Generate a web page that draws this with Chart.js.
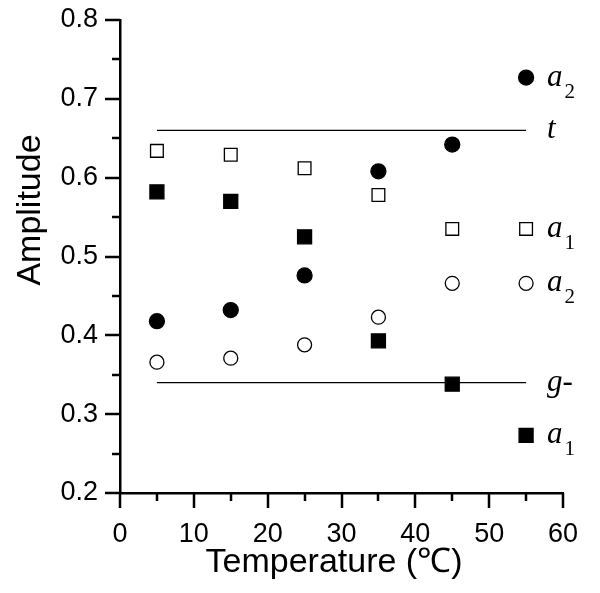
<!DOCTYPE html>
<html>
<head>
<meta charset="utf-8">
<script src="https://cdn.jsdelivr.net/npm/chart.js@4/dist/chart.umd.min.js"></script>
<style>
  html, body { margin: 0; padding: 0; background: #fff; }
</style>
</head>
<body>
<canvas id="chart" width="600" height="593"></canvas>
<script>
// measured series (temperature in C, amplitude)
const temps = [5, 15, 25, 35, 45];
const a2Filled = [0.418, 0.432, 0.476, 0.608, 0.642];
const a1Open = [0.634, 0.629, 0.612, 0.578, 0.535];
const a1Filled = [0.582, 0.570, 0.525, 0.393, 0.338];
const a2Open = [0.366, 0.371, 0.388, 0.423, 0.466];

// reference levels t and g-
const levelX = [5, 55];
const tLevel = 0.66;
const gLevel = 0.34;

// key markers on the right
const keyX = 55;
const keyA2Filled = 0.727;
const keyA1Open = 0.535;
const keyA2Open = 0.466;
const keyA1Filled = 0.273;

// text labels next to the key
const labelMain = ['a', 't', 'a', 'a', 'g-', 'a'];
const labelSub = ['2', '', '1', '2', '', '1'];
const labelY = [0.727, 0.66, 0.535, 0.466, 0.34, 0.273];

const yMajor = [0.2, 0.3, 0.4, 0.5, 0.6, 0.7, 0.8];
const xMajor = [0, 10, 20, 30, 40, 50, 60];

const sans = '"Liberation Sans", Arial, sans-serif';
const serif = '"Liberation Serif", "Times New Roman", serif';

function pts(xs, ys) {
    return ys.map((y, i) => ({ x: xs[i], y: y }));
}

function scatter(data, style, filled, radius) {
    return {
        type: 'scatter',
        data: data,
        pointStyle: style,
        pointRadius: radius,
        pointHoverRadius: radius,
        borderWidth: 1.3,
        borderColor: '#000',
        backgroundColor: filled ? '#000' : '#fff',
    };
}

function levelLine(level) {
    return {
        type: 'line',
        data: levelX.map(x => ({ x: x, y: level })),
        borderColor: '#000',
        borderWidth: 1.3,
        pointRadius: 0,
        fill: false,
    };
}

// tick marks, axis titles and the key text
const decorations = {
    id: 'decorations',
    afterDraw(chart) {
        const ctx = chart.ctx;
        const xs = chart.scales.x;
        const ys = chart.scales.y;
        const area = chart.chartArea;
        ctx.save();
        ctx.strokeStyle = '#000';
        ctx.lineWidth = 2.5;
        ctx.beginPath();
        for (let v = 0.2; v <= 0.8001; v += 0.05) {
            const py = Math.round(ys.getPixelForValue(v));
            const major = Math.abs(v * 10 - Math.round(v * 10)) < 1e-6;
            ctx.moveTo(area.left, py);
            ctx.lineTo(area.left - (major ? 15 : 8), py);
        }
        for (let v = 0; v <= 60; v += 5) {
            const px = Math.round(xs.getPixelForValue(v));
            ctx.moveTo(px, area.bottom);
            ctx.lineTo(px, area.bottom + (v % 10 === 0 ? 15 : 8));
        }
        ctx.stroke();

        // axis titles
        ctx.fillStyle = '#000';
        ctx.font = '34px ' + sans;
        ctx.textAlign = 'center';
        ctx.textBaseline = 'alphabetic';
        ctx.fillText('Temperature (\u2103)', 334, 572);
        ctx.save();
        ctx.translate(40, 210);
        ctx.rotate(-Math.PI / 2);
        ctx.fillText('Amplitude', 0, 0);
        ctx.restore();

        // key labels
        ctx.textAlign = 'left';
        const lx = xs.getPixelForValue(keyX) + 21;
        labelMain.forEach((m, i) => {
            const py = ys.getPixelForValue(labelY[i]);
            ctx.font = 'italic 31px ' + serif;
            ctx.fillText(m, lx, py + 8);
            if (labelSub[i]) {
                const w = ctx.measureText(m).width;
                ctx.font = '21px ' + serif;
                ctx.fillText(labelSub[i], lx + w + 2, py + 20);
            }
        });
        ctx.restore();
    }
};

new Chart(document.getElementById('chart'), {
    data: {
        datasets: [
            levelLine(tLevel),
            levelLine(gLevel),
            scatter(pts(temps, a2Filled), 'circle', true, 7.5),
            scatter(pts(temps, a1Open), 'rect', false, 9),
            scatter(pts(temps, a1Filled), 'rect', true, 9.9),
            scatter(pts(temps, a2Open), 'circle', false, 7),
            scatter([{ x: keyX, y: keyA2Filled }], 'circle', true, 7.5),
            scatter([{ x: keyX, y: keyA1Open }], 'rect', false, 9),
            scatter([{ x: keyX, y: keyA2Open }], 'circle', false, 7),
            scatter([{ x: keyX, y: keyA1Filled }], 'rect', true, 9.9),
        ],
    },
    options: {
        responsive: false,
        animation: false,
        devicePixelRatio: 1,
        layout: { padding: { top: 20, right: 37, left: 0, bottom: 0 } },
        plugins: {
            legend: { display: false },
            tooltip: { enabled: false },
        },
        scales: {
            x: {
                type: 'linear',
                min: 0,
                max: 60,
                afterFit: s => { s.height = 100; s.paddingLeft = 0; s.paddingRight = 0; },
                afterBuildTicks: s => { s.ticks = xMajor.map(v => ({ value: v })); },
                ticks: {
                    color: '#000',
                    padding: 25,
                    maxRotation: 0,
                    font: { family: sans, size: 27 },
                },
                grid: { display: false, drawTicks: false },
                border: { display: true, color: '#000', width: 2.5 },
            },
            y: {
                type: 'linear',
                min: 0.2,
                max: 0.8,
                afterFit: s => { s.width = 120; s.paddingTop = 0; s.paddingBottom = 0; },
                afterBuildTicks: s => { s.ticks = yMajor.map(v => ({ value: v })); },
                ticks: {
                    color: '#000',
                    padding: 22,
                    font: { family: sans, size: 27 },
                    callback: v => v.toFixed(1),
                },
                grid: { display: false, drawTicks: false },
                border: { display: true, color: '#000', width: 2.5 },
            },
        },
    },
    plugins: [decorations],
});
</script>
</body>
</html>
